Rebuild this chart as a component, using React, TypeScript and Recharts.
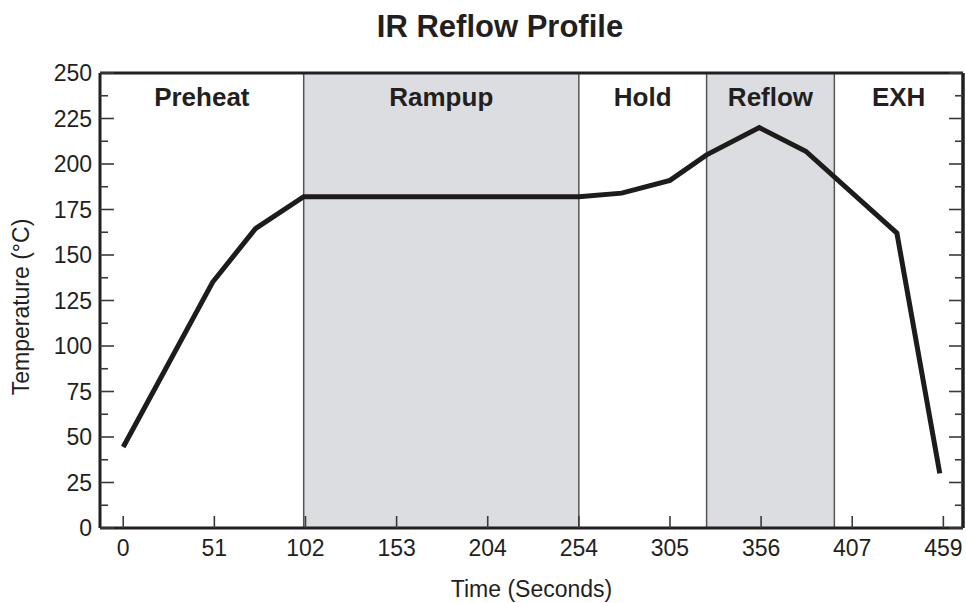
import {
  Line,
  LineChart,
  ReferenceArea,
  ReferenceLine,
  XAxis,
  YAxis,
} from "recharts";

// Profile points: time in seconds, temperature in °C.
const TIME = [0, 50, 74, 101, 255, 279, 306, 326.5, 356, 382, 433, 457];
const TEMP = [44.5, 135, 164.5, 182, 182, 184, 191, 205, 220, 207, 162, 30];

// Process zones (shaded ones get the grey fill).
const ZONE_NAMES = ["Preheat", "Rampup", "Hold", "Reflow", "EXH"];
const ZONE_START = [-13, 101, 255, 326.5, 398];
const ZONE_END = [101, 255, 326.5, 398, 470];
const ZONE_SHADED = [false, true, false, true, false];
const ZONE_EDGES = [101, 255, 326.5, 398];

// Axis ticks. The printed x labels are rounded oddly, so they are kept as-is.
const X_TICKS = [0, 51, 102, 153, 204, 255, 306, 357, 408, 459];
const X_TICK_LABELS = ["0", "51", "102", "153", "204", "254", "305", "356", "407", "459"];
const Y_TICKS = [
  0, 12.5, 25, 37.5, 50, 62.5, 75, 87.5, 100, 112.5, 125, 137.5, 150, 162.5,
  175, 187.5, 200, 212.5, 225, 237.5, 250,
];

const X_DOMAIN = [-13, 470];
const Y_DOMAIN = [0, 250];

const INK = "#231f20";
const TICK_INK = "#3a3a3a";
const BAND_FILL = "#dcdde0";
const BAND_EDGE = "#555555";
const FONT = '"Liberation Sans", Arial, Helvetica, sans-serif';

const Y_LABEL_GAP = 8;
const X_LABEL_GAP = 12;

const rows = TIME.map((t, i) => ({ t, temp: TEMP[i] }));

// Left axis: labels outside, tick marks pointing into the plot.
function LeftTick(props: any) {
  const { x, y, payload } = props;
  const value = payload.value as number;
  const major = value % 25 === 0;
  const axisX = x + Y_LABEL_GAP;
  return (
    <g>
      <line x1={axisX} x2={axisX + (major ? 14 : 8)} y1={y} y2={y} stroke={TICK_INK} strokeWidth={1.6} />
      {major && (
        <text x={x} y={y} dy="0.355em" textAnchor="end" fontSize={23} fill={INK} fontFamily={FONT}>
          {value}
        </text>
      )}
    </g>
  );
}

// Right axis: tick marks only, pointing left into the plot.
function RightTick(props: any) {
  const { x, y, payload } = props;
  const major = (payload.value as number) % 25 === 0;
  return <line x1={x} x2={x - (major ? 14 : 8)} y1={y} y2={y} stroke={TICK_INK} strokeWidth={1.6} />;
}

function BottomTick(props: any) {
  const { x, y, index } = props;
  const axisY = y - X_LABEL_GAP;
  return (
    <g>
      <line x1={x} x2={x} y1={axisY} y2={axisY - 12} stroke={TICK_INK} strokeWidth={1.6} />
      <text x={x} y={y} dy="0.71em" textAnchor="middle" fontSize={23} fill={INK} fontFamily={FONT}>
        {X_TICK_LABELS[index]}
      </text>
    </g>
  );
}

export default function App() {
  return (
    <div style={{ position: "absolute", left: 0, top: 0, width: 966, height: 603, background: "#fff", fontFamily: FONT }}>
      <LineChart width={966} height={603} data={rows} margin={{ top: 73, right: 0, bottom: 0, left: 0 }}>
        <XAxis
          dataKey="t"
          type="number"
          domain={X_DOMAIN}
          ticks={X_TICKS}
          allowDataOverflow
          height={75}
          tickSize={0}
          tickMargin={X_LABEL_GAP}
          tickLine={false}
          axisLine={{ stroke: INK, strokeWidth: 3 }}
          tick={BottomTick}
          interval={0}
          label={{ value: "Time (Seconds)", position: "insideBottom", offset: 6, fontSize: 23, fill: INK, fontFamily: FONT }}
        />
        <YAxis
          yAxisId="left"
          type="number"
          domain={Y_DOMAIN}
          ticks={Y_TICKS}
          interval={0}
          width={100}
          tickSize={0}
          tickMargin={Y_LABEL_GAP}
          tickLine={false}
          axisLine={{ stroke: INK, strokeWidth: 3 }}
          tick={LeftTick}
        />
        <YAxis
          yAxisId="right"
          orientation="right"
          type="number"
          domain={Y_DOMAIN}
          ticks={Y_TICKS}
          interval={0}
          width={3}
          tickSize={0}
          tickMargin={0}
          tickLine={false}
          axisLine={{ stroke: INK, strokeWidth: 3 }}
          tick={RightTick}
        />
        {ZONE_NAMES.map((name, i) => (
          <ReferenceArea
            key={name}
            yAxisId="left"
            x1={ZONE_START[i]}
            x2={ZONE_END[i]}
            y1={Y_DOMAIN[0]}
            y2={Y_DOMAIN[1]}
            fill={ZONE_SHADED[i] ? BAND_FILL : "none"}
            fillOpacity={1}
            stroke="none"
            ifOverflow="visible"
            label={{ value: name, position: "insideTop", offset: 15, fontSize: 26, fontWeight: 700, fill: INK, fontFamily: FONT }}
          />
        ))}
        {ZONE_EDGES.map((x) => (
          <ReferenceLine key={x} yAxisId="left" x={x} stroke={BAND_EDGE} strokeWidth={1.5} />
        ))}
        <ReferenceLine yAxisId="left" y={Y_DOMAIN[1]} stroke={INK} strokeWidth={3} />
        <ReferenceLine yAxisId="left" x={X_DOMAIN[1]} stroke={INK} strokeWidth={3} ifOverflow="visible" />
        <Line
          yAxisId="right"
          type="linear"
          dataKey="temp"
          stroke="none"
          dot={false}
          activeDot={false}
          isAnimationActive={false}
        />
        <Line
          yAxisId="left"
          type="linear"
          dataKey="temp"
          stroke="#1e1b1b"
          strokeWidth={5}
          dot={false}
          activeDot={false}
          isAnimationActive={false}
        />
      </LineChart>
      <svg width={966} height={603} style={{ position: "absolute", left: 0, top: 0, pointerEvents: "none" }}>
        <text x={500} y={37} textAnchor="middle" fontSize={31} fontWeight={700} fill={INK} fontFamily={FONT}>
          IR Reflow Profile
        </text>
        <text
          transform="translate(21,307) rotate(-90)"
          textAnchor="middle"
          dy="0.355em"
          fontSize={23}
          fill={INK}
          fontFamily={FONT}
        >
          Temperature (°C)
        </text>
      </svg>
    </div>
  );
}
